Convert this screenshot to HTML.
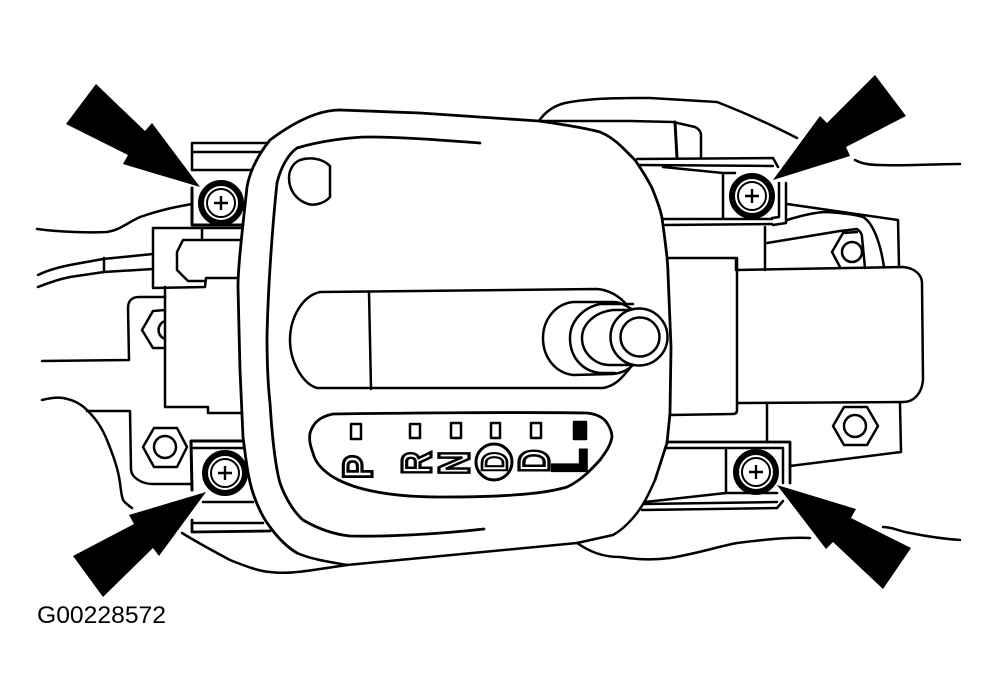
<!DOCTYPE html>
<html><head><meta charset="utf-8"><style>html,body{margin:0;padding:0;background:#fff}svg{display:block}</style></head><body>
<svg xmlns="http://www.w3.org/2000/svg" width="1001" height="699" viewBox="0 0 1001 699">
<rect width="1001" height="699" fill="#fff"/>
<g fill="none" stroke="#000" stroke-width="2.5" stroke-linejoin="round" stroke-linecap="round">
<!-- background curves -->
<path d="M37,229 C60,232 90,233 107,232 C120,230 125,224 140,217 C160,210 175,207 192,204"/>
<path d="M42,400 C50,398 57,397 63,398 C75,400 82,405 87,410 C97,420 102,428 107,440 C113,455 118,468 120,483 C121,492 122,497 123,500 C126,504 129,506 132,508"/>
<path d="M42,361 L129,360 L128,308 C128,301 132,297 139,297 L165,297"/>
<path d="M87,411 L130,411 L131,470 C132,478 142,484 153,484 L192,484"/>
<path d="M182,533 C195,541 215,552 230,560 C245,566 258,571 270,572 C285,574 300,572 320,569 L347,565"/>
<path d="M297,553 C310,559 330,562 347,565 L577,543 L613,535 C622,530 630,522 637,513 C643,505 647,498 655,480"/>
<path d="M577,543 C590,552 603,557 620,557 C640,560 655,560 670,558 C700,553 720,546 737,543 C770,539 790,537 810,538"/>
<path d="M883,527 C893,527 898,531 910,533 C925,536 945,539 960,540"/>
<path d="M855,160 C862,164 872,165 880,165 C905,166 935,164 960,164"/>
<path d="M539,121 C545,112 553,106 565,103 C590,98 620,98 650,98 L717,102 C740,111 770,124 797,138"/>
<!-- top handle -->
<path d="M539,121 L630,121 L673,122 L695,127 C699,129 701,132 701,135 L701,157"/>
<path d="M675,122 L677,158" stroke-width="3"/>
<!-- bezel outer -->
<path d="M340,110 L420,113 L539,121 C560,124 585,128 600,132 C610,136 618,143 623,148 C628,153 632,157 635,160 C642,170 648,180 652,188 C656,198 660,207 662,218 C665,240 668,260 668,273 L671,347 L670,413 L667,443 L655,480" stroke-width="2.8"/>
<path d="M340,110 C315,110 290,125 270,140 C258,155 250,170 247,187 C243,225 238,265 238,287 L240,370 L243,437 C246,460 248,478 253,493 C258,508 263,518 270,527 C278,538 287,547 297,553" stroke-width="2.8"/>
<!-- bezel inner -->
<path d="M480,143 C440,140 400,137 370,137 C350,137 320,141 297,148 C287,155 280,170 277,183 C272,230 268,290 267,337 C267,360 268,385 270,403 C272,435 275,465 280,483 C286,500 295,513 303,520 C315,527 330,534 350,536 C385,537 440,534 484,529" stroke-width="2.8"/>
<!-- hole -->
<path d="M300,160 C310,157 322,158 330,166 L330,197 C325,203 315,206 308,204 C296,200 289,190 289,178 C289,170 293,163 300,160Z"/>
<!-- shifter slot -->
<path d="M627,305 C620,297 610,290 597,289 L320,292 C302,296 290,318 290,340 C290,362 303,384 317,388 L603,388 C615,386 622,378 630,368"/>
<path d="M369,292 L371,389"/>
<path d="M633,310 C625,305 620,302 613,302 L573,302 C555,304 543,320 543,338 C543,358 556,373 573,375 L613,374 C622,373 628,370 633,365"/>
<path d="M633,304 L600,304 C582,308 570,322 570,338 C570,357 582,371 600,373 L615,373"/>
<path d="M633,310 L613,310 C595,312 582,324 582,338 C582,353 595,365 610,365 L633,365"/>
<circle cx="639" cy="337" r="28.5" fill="#fff"/>
<circle cx="640" cy="337" r="19.5"/>
<!-- indicator panel -->
<path d="M310,433 C313,424 318,417 333,414 C400,413 520,412 587,413 C597,414 604,418 607,423 C611,429 612,433 612,437 C610,447 605,453 600,460 C590,471 580,481 567,487 C550,492 530,494 513,495 C490,497 465,497 440,497 C420,497 398,496 377,492 C360,489 345,484 333,477 C322,470 315,462 313,453 C310,445 309,440 310,433Z" stroke-width="2.8"/>
<rect x="351" y="424" width="10" height="15"/><rect x="410" y="424" width="10" height="14"/><rect x="451" y="423" width="10" height="15"/><rect x="491" y="423" width="9" height="15"/><rect x="531" y="423" width="10" height="15"/>
<rect x="574" y="422" width="12" height="17" fill="#000"/>
<circle cx="494" cy="462" r="18" stroke-width="3"/>
<!-- left structure -->
<path d="M267,143 L192,143 L192,170 L252,170"/>
<path d="M192,152 L260,152"/>
<path d="M192,188 L192,225 L243,225" stroke-width="3"/>
<path d="M153,228 L202,228 L242,228 M202,228 L202,240 M202,240 L240,240"/>
<path d="M153,228 L153,288 L205,287 L206,278 L238,278"/>
<path d="M202,240 L183,240 L177,252 L177,270 L188,281 L205,281"/>
<path d="M38,275 C48,270 60,267 70,265 L103,259 L153,254"/>
<path d="M38,287 C48,283 60,279 70,277 L104,272 L153,269"/>
<path d="M104,258 L104,272"/>
<path d="M165,287 L165,407 L208,407 L208,413 L242,413"/>
<path d="M165,310 L153,311 L142,330 L153,348 L165,348"/>
<path d="M165,321 A9.5,9.5 0 0 0 165,339"/>
<path d="M154,428 L177,428 L187,447 L177,467 L154,467 L143,447Z"/>
<circle cx="165" cy="447" r="11"/>
<path d="M243,441 L191,441 L192,490" stroke-width="3"/>
<path d="M193,448 L243,448"/>
<path d="M203,502 L253,502"/>
<path d="M192,520 L192,532 L270,531" stroke-width="2.8"/>
<path d="M193,523 L263,523"/>
<!-- right top structure -->
<path d="M637,159 L773,158 L778,167 M640,165 L773,166"/>
<path d="M663,219 L772,219 M665,225 L772,224"/>
<path d="M663,167 L723,173 L735,173"/>
<path d="M723,173 L723,218"/>
<path d="M779,183 L779,217 L772,218 M786,183 L786,223 L773,225"/>
<path d="M787,204 L898,220 L899,267"/>
<path d="M787,220 C800,216 815,212 827,212 C840,213 853,214 863,217 C872,222 880,240 884,267"/>
<path d="M767,243 L840,231 L857,229 C860,231 862,234 862,237 L865,268"/>
<path d="M765,227 L765,270"/>
<path d="M843,233 L857,232 M843,233 L832,252 L840,267"/>
<circle cx="852" cy="252" r="10"/>
<path d="M668,258 L736,258 L736,270 L903,267 C915,268 922,275 922,283 L923,380 C922,392 915,402 903,402 L738,403"/>
<path d="M737,258 L737,403 L737,410 Q737,414 733,414 L670,415"/>
<path d="M767,403 L767,442"/>
<path d="M900,403 L901,452 L790,466"/>
<path d="M667,442 L790,442 L790,483" stroke-width="2.8"/>
<path d="M665,448 L783,448 L783,483"/>
<path d="M726,450 L726,493"/>
<path d="M645,502 L726,493 L777,493 M644,504 L777,502 M642,510 L777,508 L783,501"/>
<path d="M844,407 L867,407 L878,426 L867,445 L844,445 L833,426Z"/>
<circle cx="855" cy="426" r="11"/>
</g>
<!-- bolts -->
<g fill="#fff" stroke="#000">
<g transform="translate(221,203)"><circle r="20" stroke-width="6"/><circle r="14" stroke-width="2"/><path d="M-7,0H7M0,-7V7" stroke-width="2.4" fill="none"/></g>
<g transform="translate(752,196)"><circle r="20" stroke-width="6"/><circle r="14" stroke-width="2"/><path d="M-7,0H7M0,-7V7" stroke-width="2.4" fill="none"/></g>
<g transform="translate(225,473)"><circle r="20" stroke-width="6"/><circle r="14" stroke-width="2"/><path d="M-7,0H7M0,-7V7" stroke-width="2.4" fill="none"/></g>
<g transform="translate(756,472)"><circle r="20" stroke-width="6"/><circle r="14" stroke-width="2"/><path d="M-7,0H7M0,-7V7" stroke-width="2.4" fill="none"/></g>
</g>
<!-- arrows -->
<g fill="#000">
<polygon points="96,84 145,131 152,123 200,187 123,164 128,155 66,124"/>
<polygon points="875,75 906,116 846,147 850,156 773,180 820,116 827,123"/>
<polygon points="206,492 129,515 134,524 73,556 103,597 153,548 159,556"/>
<polygon points="777,485 856,509 851,518 911,548 883,589 833,542 826,549"/>
</g>
<!-- gear letters -->
<g font-family="'Liberation Sans',sans-serif" font-weight="700" font-size="40" text-anchor="middle" fill="#fff" stroke="#000" stroke-width="3">
<text transform="translate(372,467) rotate(-90) scale(.9,1.05)">P</text>
<text transform="translate(431,463) rotate(-90) scale(.8,1.05)">R</text>
<text transform="translate(469,463) rotate(-90) scale(.82,1.1)">N</text>
<text transform="translate(507,462) rotate(-90) scale(.7,.9)">D</text>
<text transform="translate(549,461) rotate(-90) scale(.8,1.1)">D</text>
<text transform="translate(586,461) rotate(-90) scale(1,1.2)" fill="#000">L</text>
</g>
<text x="37" y="623" font-family="'Liberation Sans',sans-serif" font-size="24" fill="#000" textLength="129" lengthAdjust="spacingAndGlyphs">G00228572</text>
</svg>
</body></html>
